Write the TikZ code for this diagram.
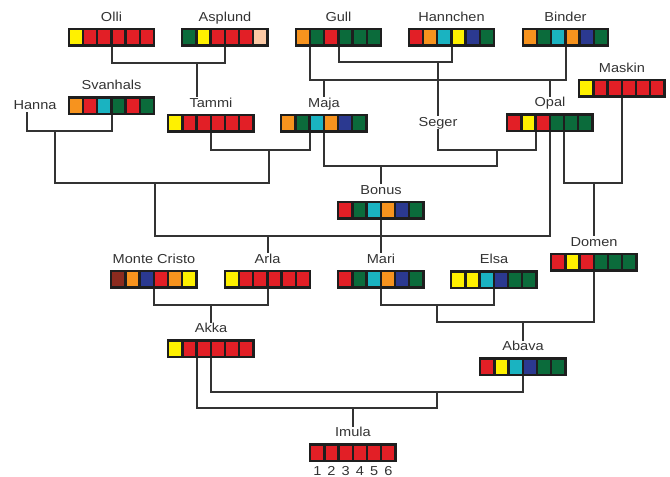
\documentclass[tikz,border=0pt]{standalone}
\usepackage{fontspec}
\setmainfont{Liberation Sans}[FakeStretch=1.12]
\usetikzlibrary{positioning, calc}

\definecolor{rd}{HTML}{E21F26}
\definecolor{gn}{HTML}{0B6B3B}
\definecolor{yl}{HTML}{FFF100}
\definecolor{og}{HTML}{F7931E}
\definecolor{cy}{HTML}{1AB3C1}
\definecolor{bl}{HTML}{2B3990}
\definecolor{pc}{HTML}{FBC9A5}
\definecolor{br}{HTML}{8B2B1F}
\definecolor{stripblack}{HTML}{1E1E1E}
\definecolor{txtgray}{HTML}{333333}
\definecolor{linegray}{HTML}{333333}

\begin{document}
\begin{tikzpicture}[
  x=1pt, y=-1pt, font=\fontsize{13}{15}\selectfont,
  strip/.style={fill=stripblack, minimum width=87.8pt, minimum height=19pt,
                inner sep=0pt},
  lbl/.style={text=txtgray, inner sep=0.5pt, text height=9.5pt,
              text depth=2.5pt, anchor=base},
  link/.style={draw=linegray, line width=2pt},
]
\useasboundingbox (0,0) rectangle (670,477);

% colour strips with names
\foreach \n/\x/\y/\t/\cols in {
  olli/111.5/37/Olli/{yl,rd,rd,rd,rd,rd},
  asplund/225/37/Asplund/{gn,yl,rd,rd,rd,pc},
  gull/338.5/37/Gull/{og,gn,rd,gn,gn,gn},
  hannchen/451.5/37/Hannchen/{rd,og,cy,yl,bl,gn},
  binder/565.5/37/Binder/{og,gn,cy,og,bl,gn},
  maskin/622/88/Maskin/{yl,rd,rd,rd,rd,rd},
  svanhals/111.5/105.5/Svanhals/{og,rd,cy,gn,rd,gn},
  tammi/211/123/Tammi/{yl,rd,rd,rd,rd,rd},
  maja/324/123/Maja/{og,gn,cy,og,bl,gn},
  opal/550/122.5/Opal/{rd,yl,rd,gn,gn,gn},
  bonus/381/210/Bonus/{rd,gn,cy,og,bl,gn},
  domen/594/262/Domen/{rd,yl,rd,gn,gn,gn},
  monte/154/279/Monte Cristo/{br,og,bl,rd,og,yl},
  arla/267.5/279/Arla/{yl,rd,rd,rd,rd,rd},
  mari/381/279/Mari/{rd,gn,cy,og,bl,gn},
  elsa/494/279.5/Elsa/{yl,yl,cy,bl,gn,gn},
  akka/211/348.5/Akka/{yl,rd,rd,rd,rd,rd},
  abava/523/366.5/Abava/{rd,yl,cy,bl,gn,gn},
  imula/353/452.5/Imula/{rd,rd,rd,rd,rd,rd}} {
  \node[strip] (\n) at (\x,\y) {};
  \node[lbl] (\n-t) at ([yshift=6pt]\n.north) {\t};
  \foreach \c [count=\i] in \cols
    \fill[fill=\c] ([xshift={2.5pt+(\i-1)*14.2pt}, yshift=-7pt]\n.west)
      rectangle ++(11.8pt,14pt);
}

% names without strip
\node[lbl] (hanna) at (35,109) {Hanna};
\node[lbl] (seger) at (438,126) {Seger};

% cell numbers under Imula
\foreach \i in {1,...,6}
  \node[lbl] (imula-n\i) at
    ([xshift={8.4pt+(\i-1)*14.2pt}, yshift=-13pt]imula.south west) {\i};

% junctions
\coordinate (oa) at (197,63);
\coordinate (gh) at (438,62);
\coordinate (gb) at (324,80);
\coordinate (hs) at (55,131);
\coordinate (tm) at (269,150);
\coordinate (hst) at (155,183);
\coordinate (ar) at (267.5,236);
\coordinate (so) at (497,150);
\coordinate (bo) at (381,166);
\coordinate (om) at (594,183);
\coordinate (ma) at (211,305);
\coordinate (me) at (437,305);
\coordinate (md) at (523,322);
\coordinate (aa) at (437,392);
\coordinate (im) at (353,408);

% top generations
\draw[link] (olli.south) |- (oa) -| (asplund.south);
\draw[link] (oa) -- (oa |- tammi-t.north);
\draw[link] (gull.south) |- (gh) -| (hannchen.south);
\draw[link] (gh) -- (seger.north);
\draw[link] ([xshift=-28.4pt]gull.south) |- (gb) -| (binder.south);
\draw[link] (gb) -- (maja-t.north);
\draw[link] (gb -| opal-t.north) -- (opal-t.north);

% middle generations
\draw[link] ([xshift=-8pt]hanna.south) |- (hs) -| (svanhals.south);
\draw[link] (tammi.south) |- (tm) -| ([xshift=-14.2pt]maja.south);
\draw[link] (hs) |- (hst) -| (tm);
\draw[link] (hst) |- (ar) -| (opal.south);
\draw[link] (ar) -- (arla-t.north);
\draw[link] (seger.south) |- (so) -| ([xshift=-14.2pt]opal.south);
\draw[link] (maja.south) |- (bo) -| (so);
\draw[link] (bo) -- (bonus-t.north);
\draw[link] ([xshift=14.2pt]opal.south) |- (om) -| (maskin.south);
\draw[link] (om) -- (domen-t.north);
\draw[link] (bonus.south) -- (mari-t.north);

% lower generations
\draw[link] (monte.south) |- (ma) -| (arla.south);
\draw[link] (ma) -- (akka-t.north);
\draw[link] (mari.south) |- (me) -| (elsa.south);
\draw[link] (me) |- (md) -| (domen.south);
\draw[link] (md) -- (abava-t.north);
\draw[link] (akka.south) |- (aa) -| (abava.south);
\draw[link] ([xshift=-14.2pt]akka.south) |- (im) -| (aa);
\draw[link] (im) -- (imula-t.north);

\end{tikzpicture}
\end{document}
